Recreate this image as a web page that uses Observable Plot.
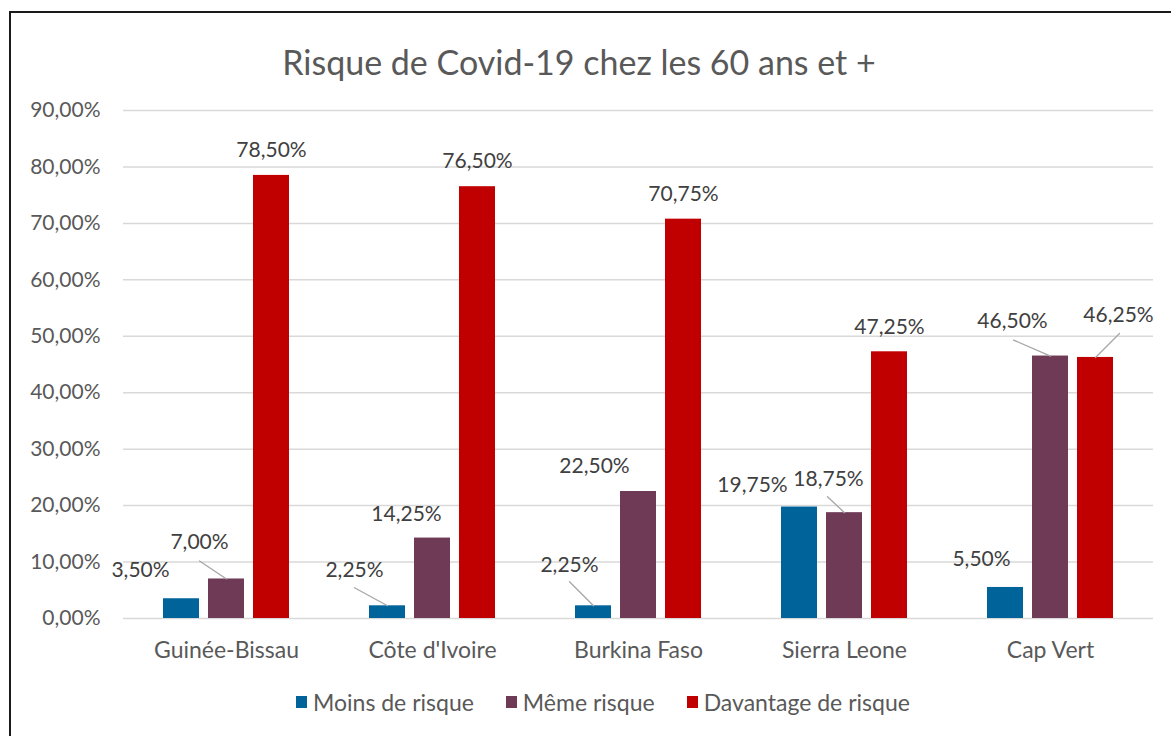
<!DOCTYPE html>
<html>
<head>
<meta charset="utf-8">
<script src="https://cdn.jsdelivr.net/npm/d3@7"></script>
<script src="https://cdn.jsdelivr.net/npm/@observablehq/plot@0.6"></script>
<style>
  html, body { margin: 0; padding: 0; background: #fff; }
  #wrap { position: relative; width: 1171px; height: 736px; overflow: hidden; font-family: Lato, "Open Sans", sans-serif; }
  #frame { position: absolute; left: 9px; top: 11px; width: 1300px; height: 900px; border: 2px solid #1a1a1a; box-sizing: border-box; pointer-events: none; }
  #title { height: 95px; box-sizing: border-box; padding-top: 44px; padding-right: 13px; font-size: 34px; line-height: 36px; text-align: center; color: #595959; }
  #chart svg { display: block; }
  #legend { height: 34px; display: flex; align-items: center; gap: 32px; padding-left: 296px; font-size: 23px; color: #595959; }
  .item { display: flex; align-items: center; }
  .sw { width: 11px; height: 12px; margin-right: 6px; }
</style>
</head>
<body>
<div id="wrap">
  <div id="frame"></div>
  <div id="title">Risque de Covid-19 chez les 60 ans et +</div>
  <div id="chart"></div>
  <div id="legend"></div>
</div>
<script>
// ---- Data ----
const countries = ["Guinée-Bissau", "Côte d'Ivoire", "Burkina Faso", "Sierra Leone", "Cap Vert"];
const series = ["Moins de risque", "Même risque", "Davantage de risque"];
const moinsDeRisque = [3.50, 2.25, 2.25, 19.75, 5.50];
const memeRisque = [7.00, 14.25, 22.50, 18.75, 46.50];
const davantageDeRisque = [78.50, 76.50, 70.75, 47.25, 46.25];
const yTicks = [0, 10, 20, 30, 40, 50, 60, 70, 80, 90];

// ---- Styling / layout (not data) ----
const colors = ["#00649B", "#6F3A56", "#C00000"];
// label offsets [dx, dy] relative to bar-top centre, per country, per series
const labelOffsets = [
  [[-41, -28], [-27, -37], [0, -25]],
  [[-33, -36], [-26, -24], [0, -25]],
  [[-24, -41], [-44, -25], [0, -25]],
  [[-47, -22], [-16, -33], [0, -25]],
  [[-24, -28], [-38, -35], [23, -42]]
];
// leader line end [dx, dy] relative to bar-top centre (null = none)
const leaders = [
  [null, [-27, -18], null],
  [[-33, -18], null, null],
  [[-24, -24], null, null],
  [null, [-17, -16], null],
  [null, [-37, -16], [24, -24]]
];

const valuesBySeries = [moinsDeRisque, memeRisque, davantageDeRisque];
const rows = [];
countries.forEach((c, i) => {
  series.forEach((s, j) => {
    const v = valuesBySeries[j][i];
    const off = labelOffsets[i][j];
    const ld = leaders[i][j];
    rows.push({
      country: c, series: s, value: v,
      label: v.toFixed(2).replace(".", ",") + "%",
      dx: off[0], dy: off[1],
      len: ld ? Math.hypot(ld[0], ld[1]) : 0,
      rot: ld ? Math.atan2(ld[0], -ld[1]) * 180 / Math.PI : 0,
      hasLeader: !!ld
    });
  });
});

const fmtTick = d => d.toFixed(2).replace(".", ",") + "%";

const lineShape = {
  draw(context, l) { context.moveTo(0, 0); context.lineTo(0, -l); }
};

const textMarks = rows.map(r => Plot.text([r], {
  fx: "country", x: "series", y: "value", text: "label",
  dx: r.dx, dy: r.dy, fill: "#404040", fontSize: 21
}));

const plot = Plot.plot({
  width: 1171,
  height: 590,
  marginLeft: 121,
  marginRight: 16,
  marginTop: 15,
  marginBottom: 67,
  style: { fontFamily: "Lato, 'Open Sans', sans-serif", fontSize: "21px", color: "#595959", background: "transparent" },
  fx: { domain: countries, padding: 0, label: null },
  x: { domain: series, axis: null, paddingInner: 0.21, paddingOuter: 0.873 },
  y: { domain: [0, 90], ticks: yTicks, tickFormat: fmtTick, label: null, tickSize: 0, tickPadding: 23 },
  color: { domain: series, range: colors },
  length: { type: "identity" },
  marks: [
    Plot.ruleY(yTicks, { stroke: "#d9d9d9", strokeWidth: 1.5 }),
    Plot.barY(rows, { fx: "country", x: "series", y: "value", fill: "series" }),
    Plot.vector(rows.filter(r => r.hasLeader), {
      fx: "country", x: "series", y: "value",
      length: "len", rotate: "rot", anchor: "start",
      shape: lineShape, stroke: "#a6a6a6", strokeWidth: 1.3
    }),
    ...textMarks,
    Plot.axisFx({ anchor: "bottom", fontSize: 23, tickSize: 0, tickPadding: 23, label: null, fill: "#595959" })
  ]
});
document.getElementById("chart").appendChild(plot);

// legend
const legend = document.getElementById("legend");
series.forEach((s, j) => {
  const it = document.createElement("div");
  it.className = "item";
  const sw = document.createElement("div");
  sw.className = "sw";
  sw.style.background = colors[j];
  const tx = document.createElement("span");
  tx.textContent = s;
  it.appendChild(sw);
  it.appendChild(tx);
  legend.appendChild(it);
});
</script>
</body>
</html>
